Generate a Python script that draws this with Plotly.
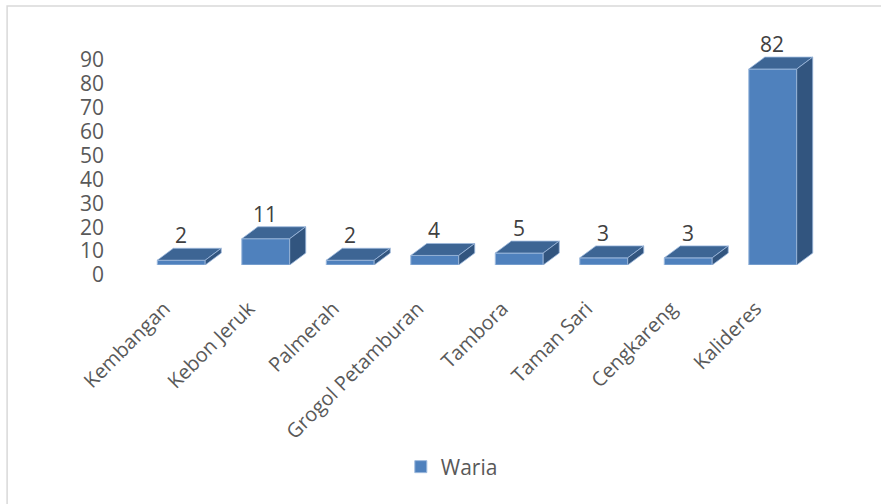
import plotly.graph_objects as go

# Number of waria per kecamatan (Jakarta Barat)
kecamatan = ["Kembangan", "Kebon Jeruk", "Palmerah", "Grogol Petamburan",
             "Tambora", "Taman Sari", "Cengkareng", "Kalideres"]
waria = [2, 11, 2, 4, 5, 3, 3, 82]
y_ticks = [0, 10, 20, 30, 40, 50, 60, 70, 80, 90]

# Pseudo-3D box geometry (data units)
BAR_W = 0.567      # front-face width in categories
DEPTH_X = 0.19     # receding offset along x (categories)
DEPTH_Y = 5.0      # receding offset along y (value units)

FRONT = "#4F81BD"
TOP = "#3D6594"
SIDE = "#32557F"
EDGE = "#9DB9DD"

W, H = 881, 504
L, R, T, B = 139, 65.5, 26, 239
FONT = "Open Sans"

idx = list(range(len(kecamatan)))
fig = go.Figure()

# front faces
fig.add_trace(go.Bar(
    x=idx, y=waria, width=BAR_W, name="Waria",
    marker=dict(color=FRONT, line=dict(color=EDGE, width=1)),
    showlegend=True, hoverinfo="skip",
))

# top and side faces
for i, v in zip(idx, waria):
    x0, x1 = i - BAR_W / 2, i + BAR_W / 2
    fig.add_trace(go.Scatter(
        x=[x0, x1, x1 + DEPTH_X, x0 + DEPTH_X, x0],
        y=[v, v, v + DEPTH_Y, v + DEPTH_Y, v],
        mode="lines", fill="toself", fillcolor=TOP,
        line=dict(color=EDGE, width=0.8), showlegend=False, hoverinfo="skip",
    ))
    fig.add_trace(go.Scatter(
        x=[x1, x1 + DEPTH_X, x1 + DEPTH_X, x1, x1],
        y=[0, DEPTH_Y, v + DEPTH_Y, v, 0],
        mode="lines", fill="toself", fillcolor=SIDE,
        line=dict(color=EDGE, width=0.8), showlegend=False, hoverinfo="skip",
    ))
    fig.add_annotation(
        x=i + DEPTH_X / 2 - 0.1, y=v + DEPTH_Y, text=str(v),
        showarrow=False, yanchor="bottom", yshift=-3,
        font=dict(family=FONT, size=21, color="#404040"),
    )

pw, ph = W - L - R, H - T - B
# chart frame
fig.add_shape(type="rect", xref="paper", yref="paper",
              x0=(7 - L) / pw, x1=(W + 10 - L) / pw,
              y0=(H - B - (H + 10)) / ph, y1=(H - B - 6) / ph,
              line=dict(color="#D9D9D9", width=1.5), fillcolor="rgba(0,0,0,0)",
              layer="below")

fig.update_layout(
    width=W, height=H,
    margin=dict(l=L, r=R, t=T, b=B),
    paper_bgcolor="white", plot_bgcolor="white",
    font=dict(family=FONT, color="#595959"),
    xaxis=dict(range=[-0.5, 7.5], tickvals=idx, ticktext=kecamatan,
               tickangle=-45, showgrid=False, zeroline=False, showline=False,
               ticks="", tickfont=dict(size=20, color="#595959"),
               ticklabelshift=-17, ticklabelstandoff=27, fixedrange=True),
    yaxis=dict(range=[0, 100], tickvals=y_ticks, showgrid=False, zeroline=False,
               showline=False, ticks="", tickfont=dict(size=21, color="#595959"),
               ticklabelshift=10, ticklabelstandoff=34, fixedrange=True),
    legend=dict(orientation="h", x=(401 - L) / pw, xanchor="left",
                y=(H - B - 467) / ph, yanchor="middle",
                font=dict(size=21, color="#595959"), itemwidth=30),
    showlegend=True,
)

fig.write_html("out.html")
